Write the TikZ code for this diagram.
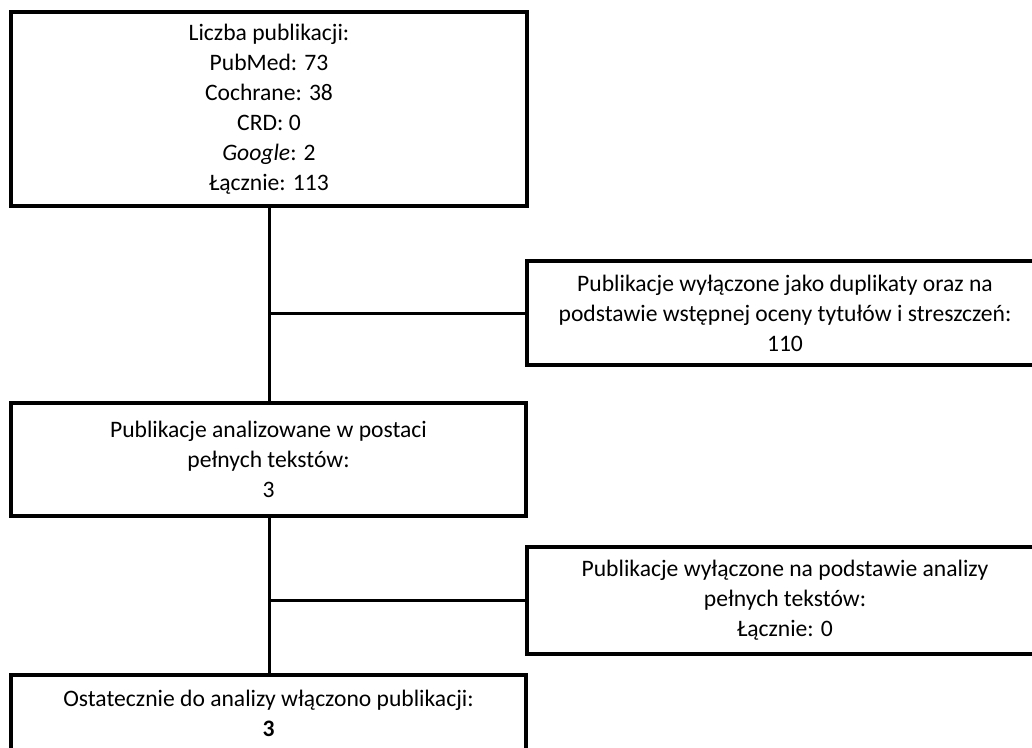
\documentclass[tikz,border=0pt]{standalone}
\usepackage{fontspec}
\setmainfont{Carlito}
\usepackage{tikz}
\tikzset{
        flow_box/.style={rectangle, draw=black, line width=4pt, inner sep=0pt,
                         align=center, font=\fontsize{23.6pt}{30pt}\selectfont},
        main_box/.style={flow_box, minimum width=515pt},
        side_box/.style={flow_box, minimum width=516pt},
        flow_line/.style={line width=3pt, draw=black}
    }

\begin{document}
\begin{tikzpicture}[x=1pt, y=-1pt]
    \useasboundingbox (0,0) rectangle (1032,747);
    \clip (0,0) rectangle (1032,747);
    % main column
    \node[main_box, minimum width=516pt, minimum height=194pt] (found) at (269, 109)
        {Liczba publikacji:\\ PubMed: 73\\ Cochrane: 38\\ CRD: 0\\ \textit{Google}: 2\\ Łącznie: 113};
    \node[main_box, minimum height=113pt] (fulltext) at (268.5, 459.5)
        {Publikacje analizowane w postaci\\ pełnych tekstów:\\ 3};
    \node[main_box, minimum height=77pt] (included) at (268.5, 713.5)
        {Ostatecznie do analizy włączono publikacji:\\ \textbf{3}};
    % excluded boxes
    \node[side_box, minimum height=104pt] (excl_first) at (785, 313)
        {Publikacje wyłączone jako duplikaty oraz na\\ podstawie wstępnej oceny tytułów i streszczeń:\\ 110};
    \node[side_box, minimum height=107pt] (excl_full) at (785, 600.5)
        {Publikacje wyłączone na podstawie analizy\\ pełnych tekstów:\\ Łącznie: 0};
    % connectors
    \draw[flow_line] (found.south) -- (found.south |- fulltext.north);
    \draw[flow_line] (found.south |- excl_first.west) -- (excl_first.west);
    \draw[flow_line] (found.south |- fulltext.south) -- (found.south |- included.north);
    \draw[flow_line] (found.south |- excl_full.west) -- (excl_full.west);
\end{tikzpicture}
\end{document}
